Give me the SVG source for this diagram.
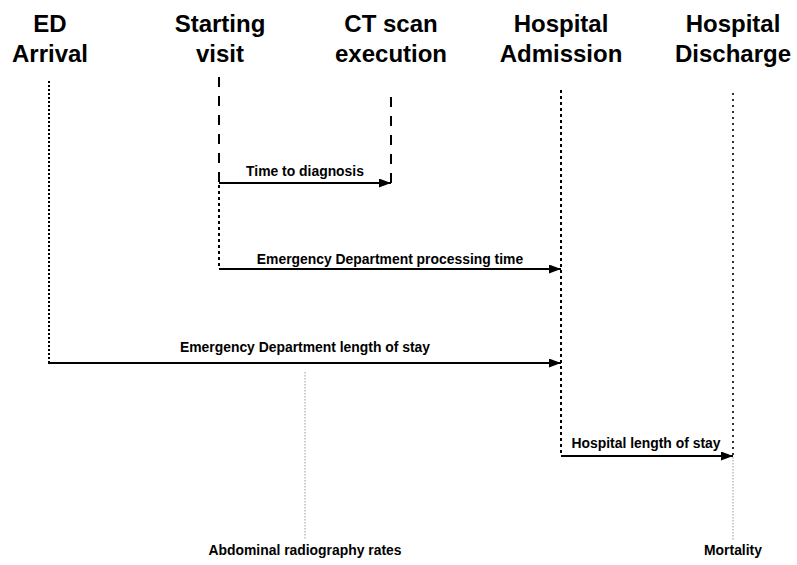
<svg xmlns="http://www.w3.org/2000/svg" width="797" height="565" viewBox="0 0 797 565">
<defs>
<style>
.title{font-family:"Liberation Sans",Arial,sans-serif;font-weight:bold;font-size:24px;fill:#000;text-anchor:middle}
.lbl{font-family:"Liberation Sans",Arial,sans-serif;font-weight:bold;font-size:13.9px;fill:#000;text-anchor:middle}
.arrow{stroke:#000;stroke-width:2;fill:none}
.dash{stroke:#000;stroke-width:2;stroke-dasharray:10 9;fill:none}
.dot1{stroke:#000;stroke-width:2;stroke-dasharray:2 2;fill:none}
.dot2{stroke:#000;stroke-width:2;stroke-dasharray:3 3;fill:none}
.dot3{stroke:#000;stroke-width:1.6;stroke-dasharray:2 4;fill:none}
.grey{stroke:#999;stroke-width:1;stroke-dasharray:1.5 1.5;fill:none}
</style>
<marker id="ah" viewBox="0 0 12 9" refX="12" refY="4.5" markerWidth="12" markerHeight="9" markerUnits="userSpaceOnUse" orient="auto">
<path d="M0,0 L12,4.5 L0,9 Z" fill="#000"/>
</marker>
</defs>
<rect width="797" height="565" fill="#fff"/>
<g id="ed-arrival">
<text class="title" x="50" y="32">ED</text>
<text class="title" x="50" y="62">Arrival</text>
<line class="dot1" x1="49" y1="81" x2="49" y2="363"/>
</g>
<g id="starting-visit">
<text class="title" x="220" y="32">Starting</text>
<text class="title" x="220" y="62">visit</text>
<line class="dash" x1="219" y1="77" x2="219" y2="183"/>
<line class="dot2" x1="219" y1="185" x2="219" y2="269"/>
</g>
<g id="ct-scan">
<text class="title" x="391" y="32">CT scan</text>
<text class="title" x="391" y="62">execution</text>
<line class="dash" x1="391" y1="97" x2="391" y2="183"/>
</g>
<g id="hospital-admission">
<text class="title" x="561" y="32">Hospital</text>
<text class="title" x="561" y="62">Admission</text>
<line class="dot2" x1="561" y1="90" x2="561" y2="455"/>
</g>
<g id="hospital-discharge">
<text class="title" x="733" y="32">Hospital</text>
<text class="title" x="733" y="62">Discharge</text>
<line class="dot3" x1="733" y1="93" x2="733" y2="455"/>
<line class="grey" x1="733" y1="457" x2="733" y2="540"/>
<text class="lbl" x="733" y="555">Mortality</text>
</g>
<g id="abdominal-radiography">
<line class="grey" x1="305" y1="372" x2="305" y2="540"/>
<text class="lbl" x="305" y="555">Abdominal radiography rates</text>
</g>
<g id="connectors">
<line class="arrow" x1="219" y1="183" x2="391" y2="183" marker-end="url(#ah)"/>
<text class="lbl" x="305" y="176">Time to diagnosis</text>
<line class="arrow" x1="219" y1="269" x2="561" y2="269" marker-end="url(#ah)"/>
<text class="lbl" x="390" y="264">Emergency Department processing time</text>
<line class="arrow" x1="48" y1="363" x2="561" y2="363" marker-end="url(#ah)"/>
<text class="lbl" x="305" y="352">Emergency Department length of stay</text>
<line class="arrow" x1="561" y1="456" x2="733" y2="456" marker-end="url(#ah)"/>
<text class="lbl" x="646" y="448">Hospital length of stay</text>
</g>
</svg>
